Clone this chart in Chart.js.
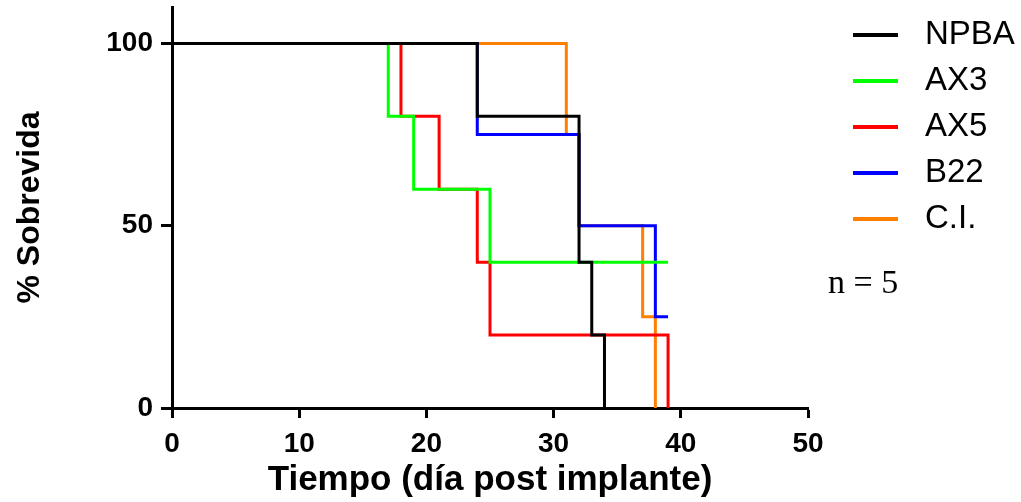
<!DOCTYPE html>
<html>
<head>
<meta charset="utf-8">
<title>Sobrevida</title>
<script src="https://cdn.jsdelivr.net/npm/chart.js@4/dist/chart.umd.min.js"></script>
<style>
  html, body { margin: 0; padding: 0; background: #fff; }
  #wrap { position: relative; width: 1021px; height: 502px; }
</style>
</head>
<body>
<div id="wrap"><canvas id="kmChart" width="1021" height="502"></canvas></div>
<script>
// datos (dia del evento, % sobrevida)
const groupNames = ['NPBA', 'AX3', 'AX5', 'B22', 'C.I.'];
const npbaDays = [0, 24, 32, 33, 34];
const npbaSurv = [100, 80, 40, 20, 0];
const ax3Days = [0, 17, 19, 25, 39];
const ax3Surv = [100, 80, 60, 40, 40];
const ax5Days = [0, 18, 21, 24, 25, 39];
const ax5Surv = [100, 80, 60, 40, 20, 0];
const b22Days = [0, 24, 32, 38, 39];
const b22Surv = [100, 75, 50, 25, 25];
const ciDays = [0, 31, 32, 37, 38];
const ciSurv = [100, 75, 50, 25, 0];
const xTicks = [0, 10, 20, 30, 40, 50];
const yTicks = [0, 50, 100];
const nLabel = 'n = 5';

const colores = ['#000000', '#00ff00', '#ff0000', '#0000ff', '#ff8000'];
const sans = "'Liberation Sans', Arial, Helvetica, sans-serif";

function toPoints(days, surv) {
    return days.map((d, i) => ({ x: d, y: surv[i] }));
}

const series = [
    toPoints(npbaDays, npbaSurv),
    toPoints(ax3Days, ax3Surv),
    toPoints(ax5Days, ax5Surv),
    toPoints(b22Days, b22Surv),
    toPoints(ciDays, ciSurv)
];

// leyenda dibujada a mano a la derecha, como en la figura original
const leyendaPlugin = {
    id: 'leyendaPrism',
    afterDraw(chart) {
        const ctx = chart.ctx;
        ctx.save();
        chart.data.datasets.forEach((ds, i) => {
            const y = 35 + i * 46;
            ctx.strokeStyle = ds.borderColor;
            ctx.lineWidth = 4;
            ctx.beginPath();
            ctx.moveTo(853, y);
            ctx.lineTo(898, y);
            ctx.stroke();
            ctx.fillStyle = '#000';
            ctx.font = '33px ' + sans;
            ctx.textAlign = 'left';
            ctx.textBaseline = 'middle';
            ctx.fillText(ds.label, 925, y);
        });
        ctx.font = "34px 'Liberation Serif', 'Times New Roman', serif";
        ctx.textBaseline = 'middle';
        ctx.fillText(nLabel, 828, 284);
        ctx.restore();
    }
};

const ctx = document.getElementById('kmChart').getContext('2d');
new Chart(ctx, {
    type: 'line',
    data: {
        datasets: series.map((pts, i) => ({
            label: groupNames[i],
            data: pts,
            borderColor: colores[i],
            backgroundColor: colores[i],
            borderWidth: 3,
            borderJoinStyle: 'miter',
            borderCapStyle: 'butt',
            stepped: true,
            pointRadius: 0,
            fill: false,
            clip: 6
        }))
    },
    options: {
        responsive: false,
        animation: false,
        events: [],
        layout: { padding: { top: 7, right: 213, left: 0, bottom: 0 } },
        plugins: {
            legend: { display: false },
            tooltip: { enabled: false }
        },
        scales: {
            x: {
                type: 'linear',
                min: 0,
                max: 50,
                afterFit: (scale) => { scale.height = 94; },
                afterBuildTicks: (scale) => { scale.ticks = xTicks.map(v => ({ value: v })); },
                border: { display: true, color: '#000', width: 3 },
                grid: { drawOnChartArea: false, drawTicks: true, tickLength: 10, tickWidth: 3, tickColor: '#000' },
                ticks: {
                    color: '#000',
                    padding: 9,
                    maxRotation: 0,
                    font: { family: sans, size: 28, weight: 'bold' }
                },
                title: {
                    display: true,
                    text: 'Tiempo (día post implante)',
                    color: '#000',
                    padding: { top: 0, bottom: 1 },
                    font: { family: sans, size: 35, weight: 'bold' }
                }
            },
            y: {
                type: 'linear',
                min: 0,
                max: 110,
                afterFit: (scale) => {
                    scale.width = 172;
                    // sin margen extra arriba: el eje llega casi al borde
                    scale.paddingTop = 0;
                    scale.paddingBottom = 0;
                },
                afterBuildTicks: (scale) => { scale.ticks = yTicks.map(v => ({ value: v })); },
                border: { display: true, color: '#000', width: 3 },
                grid: { drawOnChartArea: false, drawTicks: true, tickLength: 11, tickWidth: 3, tickColor: '#000' },
                ticks: {
                    color: '#000',
                    padding: 8,
                    font: { family: sans, size: 28, weight: 'bold' }
                },
                title: {
                    display: true,
                    text: '% Sobrevida',
                    color: '#000',
                    padding: { top: 11, bottom: 0 },
                    font: { family: sans, size: 32, weight: 'bold' }
                }
            }
        }
    },
    plugins: [leyendaPlugin]
});
</script>
</body>
</html>
